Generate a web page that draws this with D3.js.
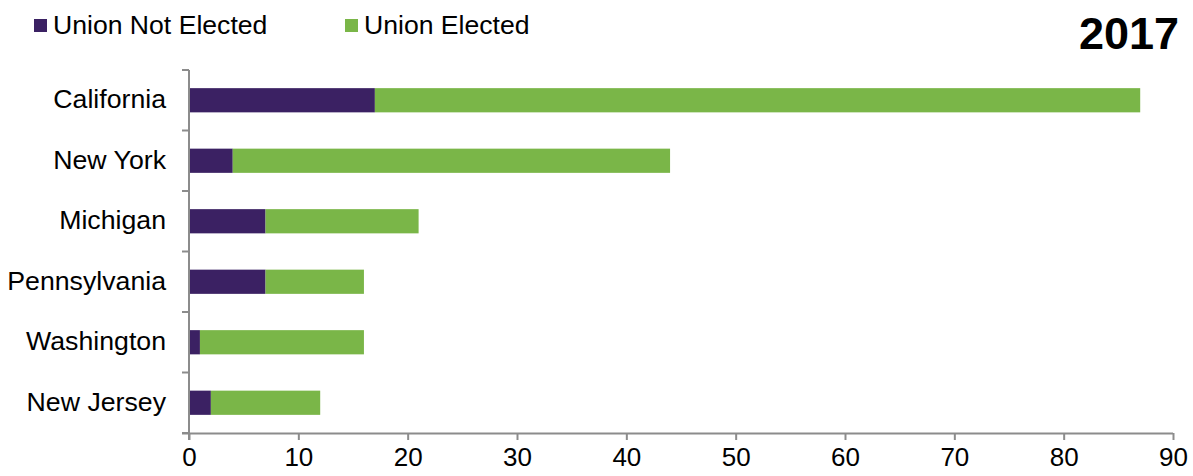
<!DOCTYPE html>
<html>
<head>
<meta charset="utf-8">
<script src="https://cdn.jsdelivr.net/npm/d3@7"></script>
<style>
  html, body { margin: 0; padding: 0; background: #fff; }
  svg { display: block; font-family: "Liberation Sans", Arial, sans-serif; }
</style>
</head>
<body>
<svg id="chart" width="1193" height="476"></svg>
<script>
const categories = ["California", "New York", "Michigan", "Pennsylvania", "Washington", "New Jersey"];
const notElected = [17, 4, 7, 7, 1, 2];
const elected = [70, 40, 14, 9, 15, 10];
const seriesNames = ["Union Not Elected", "Union Elected"];
const xTicks = [0, 10, 20, 30, 40, 50, 60, 70, 80, 90];
const title = "2017";

const colors = ["#3b2163", "#7ab648"];
const axisColor = "#8c8c8c";

const svg = d3.select("#chart");
const margin = { left: 189, top: 70 };

const x = d3.scaleLinear().domain([0, 90]).range([margin.left, 1173]);
const y = d3.scaleBand().domain(categories).range([margin.top, 433]).paddingInner(0.6).paddingOuter(0.3);

const rows = categories.map((c, i) => ({ cat: c, a: notElected[i], b: elected[i] }));
const stack = d3.stack().keys(["a", "b"])(rows);

const g = svg.append("g");
stack.forEach((layer, li) => {
  g.selectAll(null).data(layer).enter().append("rect")
    .attr("x", d => x(d[0]))
    .attr("width", d => x(d[1]) - x(d[0]))
    .attr("y", d => y(d.data.cat))
    .attr("height", y.bandwidth())
    .attr("fill", colors[li]);
});

// x axis
const xAxis = svg.append("g").attr("transform", "translate(0,433)")
  .call(d3.axisBottom(x).tickValues(xTicks).tickSize(7).tickSizeOuter(0).tickFormat(d3.format("d")));
xAxis.select(".domain").attr("stroke", axisColor).attr("stroke-width", 2).attr("d", `M${x(0) - 7},0.5H${x(90)}`);
xAxis.selectAll(".tick line").attr("stroke", axisColor).attr("stroke-width", 2);
xAxis.selectAll(".tick text").attr("font-size", 26).attr("fill", "#000").attr("y", 13).attr("dy", "0.75em")
  .attr("font-family", "Liberation Sans, Arial, sans-serif");

// y axis line and boundary ticks
const yAxisG = svg.append("g");
yAxisG.append("line").attr("x1", x(0)).attr("x2", x(0)).attr("y1", 70).attr("y2", 440)
  .attr("stroke", axisColor).attr("stroke-width", 2);
const boundaries = d3.range(categories.length + 1).map(i => 70 + i * (433 - 70) / categories.length);
yAxisG.selectAll(null).data(boundaries).enter().append("line")
  .attr("x1", x(0) - 7).attr("x2", x(0)).attr("y1", d => d).attr("y2", d => d)
  .attr("stroke", axisColor).attr("stroke-width", 2);

// category labels
svg.append("g").selectAll("text").data(categories).enter().append("text")
  .attr("x", 166)
  .attr("y", d => y(d) + y.bandwidth() / 2 + 8)
  .attr("text-anchor", "end")
  .attr("font-size", 26.7)
  .attr("fill", "#000")
  .text(d => d);

// legend
const legendX = [34, 345];
const legend = svg.append("g");
seriesNames.forEach((name, i) => {
  legend.append("rect").attr("x", legendX[i]).attr("y", 19).attr("width", 13).attr("height", 13).attr("fill", colors[i]);
  legend.append("text").attr("x", legendX[i] + 19).attr("y", 34).attr("font-size", 26.6).attr("fill", "#000").text(name);
});

// title
svg.append("text").attr("x", 1179).attr("y", 49).attr("text-anchor", "end")
  .attr("font-size", 45).attr("font-weight", "bold").attr("fill", "#000").text(title);
</script>
</body>
</html>
